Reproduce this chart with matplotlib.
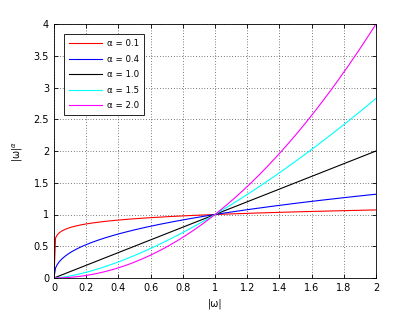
import numpy as np
import matplotlib.pyplot as plt

# exponents and colours of each curve
alphas = [0.1, 0.4, 1.0, 1.5, 2.0]
colors = ['#ff0000', '#0000ff', '#000000', '#00ffff', '#ff00ff']
labels = ['\u03b1 = 0.1', '\u03b1 = 0.4', '\u03b1 = 1.0', '\u03b1 = 1.5', '\u03b1 = 2.0']
xticks = [0, 0.2, 0.4, 0.6, 0.8, 1, 1.2, 1.4, 1.6, 1.8, 2]
yticks = [0, 0.5, 1, 1.5, 2, 2.5, 3, 3.5, 4]

w = np.linspace(0, 2, 201)

fig = plt.figure(figsize=(4.15, 3.12), dpi=100)
ax = fig.add_axes([0.130, 0.109, 0.776, 0.814])

for a, c, lab in zip(alphas, colors, labels):
    ax.plot(w, np.abs(w) ** a, color=c, lw=0.8, label=lab)

ax.set_xlim(0, 2)
ax.set_ylim(0, 4)
ax.set_xticks(xticks)
ax.set_xticklabels(['0', '0.2', '0.4', '0.6', '0.8', '1', '1.2', '1.4', '1.6', '1.8', '2'])
ax.set_yticks(yticks)
ax.set_yticklabels(['0', '0.5', '1', '1.5', '2', '2.5', '3', '3.5', '4'])
ax.tick_params(direction='in', top=True, right=True, labelsize=7, length=3, width=0.6)
ax.grid(True, color='black', linestyle=(0, (1, 3)), linewidth=0.5)
for s in ax.spines.values():
    s.set_linewidth(0.6)

ax.set_xlabel('|\u03c9|', fontsize=7, labelpad=4)
ax.set_ylabel('|\u03c9|$^{\u03b1}$', fontsize=7, labelpad=6)

leg = ax.legend(loc='upper left', bbox_to_anchor=(0.03, 0.96), fontsize=6.2,
                fancybox=False, framealpha=1, edgecolor='black',
                handlelength=3.8, handletextpad=0.6, borderpad=0.6,
                labelspacing=0.75, borderaxespad=0)
leg.get_frame().set_linewidth(0.6)

fig.savefig('out.png', dpi=100)
